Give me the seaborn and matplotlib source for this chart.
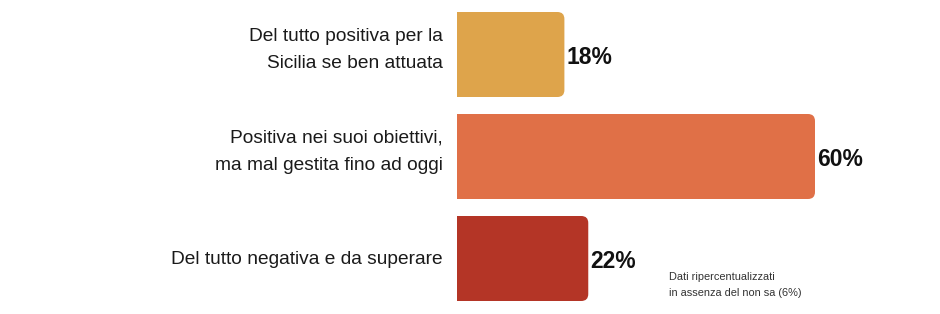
import matplotlib
matplotlib.use("Agg")
import matplotlib.pyplot as plt
import matplotlib.transforms as mtransforms
from matplotlib.patches import FancyBboxPatch
import seaborn as sns
import pandas as pd

categories = ["Del tutto positiva per la\nSicilia se ben attuata",
              "Positiva nei suoi obiettivi,\nma mal gestita fino ad oggi",
              "Del tutto negativa e da superare"]
values = [18, 60, 22]
value_labels = ["18%", "60%", "22%"]
colors = ["#DEA44B", "#E07047", "#B43526"]
note = "Dati ripercentualizzati\nin assenza del non sa (6%)"

sns.set_style("white")
plt.rcParams['font.family'] = ['Liberation Sans', 'DejaVu Sans']

W, H = 940, 314
fig = plt.figure(figsize=(W / 100, H / 100), dpi=100)
ax_left = 457 / W
ax = fig.add_axes([ax_left, 0, 1 - ax_left, 1])

df = pd.DataFrame({"cat": categories, "val": values})
sns.barplot(data=df, y="cat", x="val", hue="cat", palette=colors,
            orient="h", width=85 / 102, legend=False, ax=ax, saturation=1)

px_per_unit = 358 / 60.0
ax.set_xlim(0, (W - 457) / px_per_unit)
ax.set_ylim(2 + 55.5 / 102, -54.5 / 102)

xu = 1 / px_per_unit
yu = 1 / 102
radius_px = 7
for p, c in zip(list(ax.patches), colors):
    x0, y0 = p.get_x(), p.get_y()
    w, h = p.get_width(), p.get_height()
    p.set_visible(False)
    fb = FancyBboxPatch((x0 - 3, y0), w + 3, h,
                        boxstyle=f"round,pad=0,rounding_size={radius_px * xu}",
                        mutation_aspect=yu / xu, facecolor=c, edgecolor="none",
                        clip_on=True)
    ax.add_patch(fb)

for i, (v, lab) in enumerate(zip(values, value_labels)):
    ax.annotate(lab, xy=(v, i), xytext=(1.5, -2), textcoords="offset points",
                ha="left", va="center", fontsize=16.5, fontweight="bold",
                color="#111111")

# category labels drawn at the category positions
ticks = ax.get_yticks()
tick_texts = [t.get_text() for t in ax.get_yticklabels()]
ax.set_yticks([])
trans = mtransforms.blended_transform_factory(ax.transAxes, ax.transData)
for y, txt in zip(ticks, tick_texts):
    dy = 4.5 if "\n" in txt else -1
    ax.annotate(txt, xy=(0, y), xycoords=trans, xytext=(-14, dy),
                textcoords="offset pixels", ha="right", va="center",
                fontsize=13.8, color="#1a1a1a", linespacing=1.78,
                annotation_clip=False)

ax.set_xlabel("")
ax.set_ylabel("")
ax.set_xticks([])
for s in ax.spines.values():
    s.set_visible(False)

fig.text(669 / W, 1 - 285 / H, note, ha="left", va="center",
         fontsize=7.9, color="#333333", linespacing=1.75)

fig.savefig("out.png", dpi=100)
